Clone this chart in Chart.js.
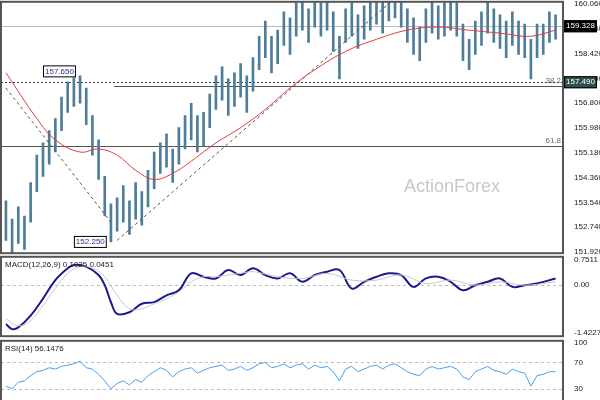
<!DOCTYPE html>
<html><head><meta charset="utf-8">
<script src="https://cdn.jsdelivr.net/npm/chart.js@4"></script>
<style>
body{margin:0;background:#fff;width:600px;height:400px;overflow:hidden;font-family:"Liberation Sans",sans-serif;position:relative}
.p{position:absolute;left:0;width:600px}
</style></head><body>
<div class="p" style="top:-6px;height:267px"><canvas id="c1"></canvas></div>
<div class="p" style="top:249px;height:95px"><canvas id="c2"></canvas></div>
<div class="p" style="top:333px;height:80px"><canvas id="c3"></canvas></div>
<script>
const highs=[153.6,153.0,153.4,153.1,154.2,155.1,155.5,155.9,156.3,157.0,157.5,157.65,157.7,157.3,156.4,155.6,154.4,153.5,153.7,154.1,153.6,154.2,153.9,154.6,155.2,155.5,155.8,155.3,156.0,156.4,156.8,156.4,156.5,157.1,157.7,158.0,157.6,157.8,158.1,157.7,158.3,159.0,159.5,159.0,159.2,159.8,159.6,160.1,160.2,159.9,160.3,160.1,160.3,159.8,159.0,159.9,160.1,159.7,160.0,160.2,160.4,160.2,160.5,160.6,160.4,159.9,159.6,159.3,159.9,160.2,160.0,160.1,160.3,160.1,159.4,158.9,159.5,159.8,160.2,159.9,159.7,159.5,159.8,159.5,159.4,158.9,159.4,159.4,159.8,159.7];
const lows=[152.3,151.9,152.2,152.0,152.9,153.9,154.4,154.8,155.2,155.9,156.5,156.7,156.8,156.1,155.1,154.3,153.1,152.25,152.6,152.9,152.5,153.0,152.8,153.4,154.0,154.5,154.7,154.2,154.8,155.3,155.6,155.2,155.4,156.0,156.6,156.9,156.4,156.7,157.0,156.5,157.2,157.9,158.3,157.8,158.1,158.7,158.4,159.0,159.2,158.8,159.3,159.0,159.2,158.5,157.6,158.8,159.0,158.6,158.9,159.2,159.4,159.1,159.5,159.6,159.3,158.8,158.4,158.2,158.8,159.1,158.9,159.0,159.2,159.0,158.2,157.9,158.4,158.7,159.1,158.8,158.6,158.3,158.7,158.4,158.3,157.6,158.3,158.4,158.8,158.9];
const maX=[0,5,8,12,15,18,21,24,27,30,34,38,42,46,50,55,60,65,70,75,80,85,89];
const maY=[157.8,156.3,155.6,155.2,155.3,155.1,154.6,154.3,154.5,154.9,155.5,156.0,156.6,157.3,157.9,158.5,158.9,159.2,159.3,159.2,159.1,159.0,159.2];
const diagA=[[0,157.3],[17,152.9]];
const diagB=[[18,152.3],[63,160.25]];
const macdX=[0,1,2,4,6,8,10,11,13,15,16,17,18,20,22,24,26,28,30,32,34,36,38,40,42,44,46,48,50,52,54,56,58,60,62,64,66,68,70,72,74,76,78,80,82,84,86,89];
const macdY=[-1.15,-1.3,-1.25,-0.9,-0.4,0.15,0.5,0.6,0.55,0.3,0.0,-0.5,-0.85,-0.8,-0.55,-0.5,-0.3,-0.15,0.35,0.25,0.2,0.45,0.3,0.5,0.3,0.2,0.35,0.1,0.3,0.4,0.45,-0.1,0.1,0.25,0.35,0.3,-0.05,0.2,0.25,0.1,-0.15,0.0,0.1,0.2,-0.05,0.0,0.05,0.2];
const sigX=[0,2,4,6,8,10,12,14,16,18,20,22,24,26,28,30,32,34,36,38,40,44,48,52,56,60,64,68,72,76,80,84,89];
const sigY=[-1.0,-1.2,-1.05,-0.6,-0.1,0.35,0.55,0.5,0.25,-0.3,-0.7,-0.7,-0.55,-0.4,-0.2,0.1,0.25,0.25,0.3,0.35,0.4,0.25,0.2,0.35,0.15,0.15,0.3,0.05,0.15,0.0,0.1,0.0,0.1];
const rsiX=[0,1,2,3,4,5,6,7,8,9,10,11,12,13,14,15,16,17,18,19,20,21,22,23,24,25,26,27,28,29,30,31,32,33,34,35,36,37,38,39,40,41,42,43,44,45,46,47,48,49,50,51,52,53,54,55,56,57,58,59,60,61,62,63,64,65,66,67,68,69,70,71,72,73,74,75,76,77,78,79,80,81,82,83,84,85,86,87,88,89];
const rsiY=[34,30,40,42,50,56,58,62,60,64,66,68,72,62,60,52,42,30,38,42,36,44,40,50,56,62,58,48,56,60,62,54,58,62,64,66,58,60,64,58,62,68,70,62,64,68,62,66,68,60,66,62,64,56,42,60,64,56,60,64,66,60,66,68,62,56,52,50,60,64,60,62,64,60,48,44,56,60,64,58,56,52,60,56,54,34,50,52,56,56];
const priceTicks=[160.060,159.240,158.420,157.600,156.800,155.980,155.180,154.360,153.540,152.740,151.920];
const macdTicks=[0.7511,0.00,-1.4227];
const rsiTicks=[100,70,30];
const lastPrice=159.328, supPrice=157.490, fib382=157.36, fib618=155.41;

const F={family:"Liberation Sans",size:8};
const border={id:'bd',afterDraw(c){const a=c.chartArea,x=c.ctx;x.save();x.strokeStyle='#555';x.lineWidth=2;x.strokeRect(a.left,a.top,a.right-a.left,a.bottom-a.top);x.restore();}};
function xs(){return {type:'linear',min:-0.8,max:90.2,offset:false,bounds:'ticks',display:false};}
function ys(min,max,ticks,fmt){return {position:'right',min,max,grid:{display:false},border:{display:false},
 afterBuildTicks(s){s.ticks=ticks.map(v=>({value:v}));},
 afterFit(s){s.width=37;},
 ticks:{font:F,color:'#222',padding:3,autoSkip:false,callback:fmt}};}
const base={responsive:true,maintainAspectRatio:false,animation:false,layout:{padding:{left:1,top:1,bottom:1,right:0}},plugins:{legend:{display:false},tooltip:{enabled:false}}};
const pts=(X,Y)=>X.map((x,i)=>({x,y:Y[i]}));

const ann={id:'ann',beforeDatasetsDraw(c){const x=c.ctx,a=c.chartArea,Y=c.scales.y,X=c.scales.x;x.save();
 const hl=(v,col,dash,x0)=>{const p=Math.round(Y.getPixelForValue(v))+0.5;x.strokeStyle=col;x.lineWidth=1;x.setLineDash(dash);x.beginPath();x.moveTo(x0,p);x.lineTo(a.right,p);x.stroke();};
 hl(lastPrice,'#bbb',[],a.left);hl(supPrice,'#333',[2,2],a.left);hl(fib382,'#555',[],X.getPixelForValue(17.5));hl(fib618,'#555',[],a.left);
 x.setLineDash([]);x.font='8px "Liberation Sans"';x.fillStyle='#666';x.textAlign='right';
 x.fillText('38.2',a.right-2,Y.getPixelForValue(fib382)-3);x.fillText('61.8',a.right-2,Y.getPixelForValue(fib618)-3);
 x.font='18px "Liberation Sans"';x.fillStyle='#c8c8c8';x.textAlign='left';x.fillText('ActionForex',404,198);
 x.restore();},
 afterDraw(c){const x=c.ctx,Y=c.scales.y,X=c.scales.x,a=c.chartArea;x.save();x.font='8px "Liberation Sans"';x.textBaseline='middle';
 const box=(t,px,py,bg,fg)=>{const w=x.measureText(t).width+4;x.fillStyle=bg;x.fillRect(px,py-6,w,12);x.strokeStyle='#000';x.lineWidth=1;x.strokeRect(px+0.5,py-5.5,w-1,11);x.fillStyle=fg;x.fillText(t,px+2,py);};
 box('157.650',X.getPixelForValue(6),Y.getPixelForValue(157.65)-6,'#fff','#2a2a8a');
 box('152.250',X.getPixelForValue(11),Y.getPixelForValue(152.25)+0,'#fff','#2a2a8a');
 box('159.328',a.right+1,Y.getPixelForValue(lastPrice),'#000','#fff');
 box('157.490',a.right+1,Y.getPixelForValue(supPrice),'#2f4f4f','#fff');
 x.restore();}};

new Chart(c1,{type:'bar',data:{datasets:[
 {type:'bar',data:highs.map((h,i)=>({x:i,y:[lows[i],h]})),backgroundColor:'#4d7d98',barThickness:2,grouped:false,order:3},
 {type:'line',data:pts(maX,maY),borderColor:'#e8383a',borderWidth:1,pointRadius:0,tension:0.4,order:1},
 {type:'line',data:diagA.map(p=>({x:p[0],y:p[1]})),borderColor:'#555',borderWidth:1,borderDash:[3,3],pointRadius:0,order:2},
 {type:'line',data:diagB.map(p=>({x:p[0],y:p[1]})),borderColor:'#555',borderWidth:1,borderDash:[3,3],pointRadius:0,order:2}
]},options:{...base,scales:{x:xs(),y:ys(151.88,160.13,priceTicks,v=>v.toFixed(3))}},plugins:[border,ann]});

const panelLabel=(t)=>({id:'pl',afterDraw(c){const x=c.ctx;x.save();x.font='8px "Liberation Sans"';x.fillStyle='#222';x.fillText(t,c.chartArea.left+4,c.chartArea.top+10);x.restore();}});
const dashLines=(vals)=>({id:'dl',beforeDatasetsDraw(c){const x=c.ctx,a=c.chartArea;x.save();x.strokeStyle='#bbb';x.setLineDash([3,3]);vals.forEach(v=>{const p=Math.round(c.scales.y.getPixelForValue(v))+0.5;x.beginPath();x.moveTo(a.left,p);x.lineTo(a.right,p);x.stroke();});x.restore();}});

new Chart(c2,{type:'line',data:{datasets:[
 {data:pts(sigX,sigY),borderColor:'#c8c8c8',borderWidth:1,pointRadius:0,tension:0.4},
 {data:pts(macdX,macdY),borderColor:'#1a1a8c',borderWidth:2,pointRadius:0,tension:0.4}
]},options:{...base,scales:{x:xs(),y:ys(-1.51,0.84,macdTicks,v=>v===0?'0.00':String(v))}},plugins:[border,dashLines([0]),panelLabel('MACD(12,26,9) 0.1035 0.0451')]});

new Chart(c3,{type:'line',data:{datasets:[
 {data:pts(rsiX,rsiY),borderColor:'#4a9ff0',borderWidth:1,pointRadius:0}
]},options:{...base,scales:{x:xs(),y:ys(5,103,rsiTicks,v=>String(v))}},plugins:[border,dashLines([70,30]),panelLabel('RSI(14) 56.1476')]});
</script></body></html>
